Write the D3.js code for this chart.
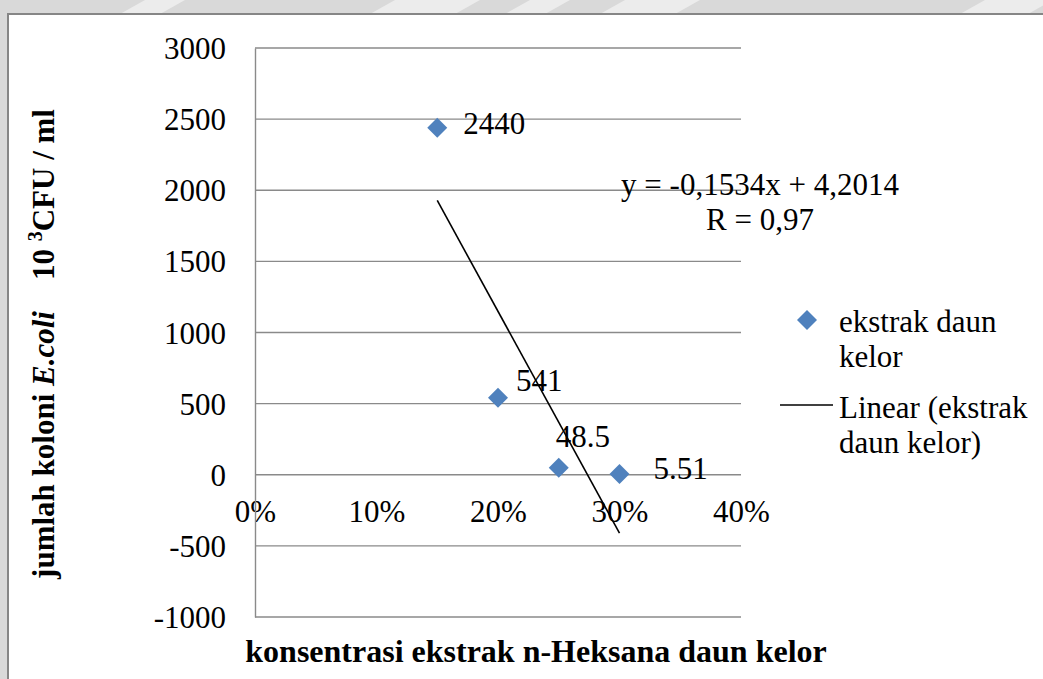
<!DOCTYPE html>
<html>
<head>
<meta charset="utf-8">
<script src="https://cdn.jsdelivr.net/npm/d3@7"></script>
<style>
  html, body { margin: 0; padding: 0; background: #d9d9d9; }
  svg { display: block; }
  text { font-family: "Liberation Serif", "Times New Roman", serif; fill: #000; }
</style>
</head>
<body>
<svg id="chart" width="1043" height="679"></svg>
<script>
// ---- data ----
const xValues = [0.15, 0.20, 0.25, 0.30];
const yValues = [2440, 541, 48.5, 5.51];
const pointLabels = ["2440", "541", "48.5", "5.51"];
const xTicks = [0, 0.1, 0.2, 0.3, 0.4];
const yTicks = [-1000, -500, 0, 500, 1000, 1500, 2000, 2500, 3000];
const seriesName = ["ekstrak daun", "kelor"];
const trendName = ["Linear (ekstrak", "daun kelor)"];
const equationLines = ["y = -0,1534x + 4,2014", "R = 0,97"];
const xTitle = "konsentrasi ekstrak n-Heksana daun kelor";

// label placement (layout, not data): [dx, baseline dy] from the point
const labelOffsets = [[26, 6], [18, -7], [-3, -21], [34, 5]];

const svg = d3.select("#chart");
const W = 1043, H = 679;

// background + faint watermark strips at the top
svg.append("rect").attr("width", W).attr("height", H).attr("fill", "#d9d9d9");
const wm = [[120, 175], [370, 470], [505, 560], [600, 690], [960, 1043]];
wm.forEach(([a, b]) => {
  svg.append("polygon")
    .attr("points", `${a},14 ${a + 25},0 ${b + 10},0 ${b - 15},14`)
    .attr("fill", "#ececec");
});

// chart area
svg.append("rect").attr("x", 8).attr("y", 14).attr("width", W).attr("height", H)
  .attr("fill", "#fff").attr("stroke", "#868686").attr("stroke-width", 2);

const x = d3.scaleLinear().domain([0, 0.4]).range([255, 741]);
const y = d3.scaleLinear().domain([-1000, 3000]).range([617, 48]);

// gridlines
svg.append("g").selectAll("line").data(yTicks).join("line")
  .attr("x1", x(0)).attr("x2", x(0.4))
  .attr("y1", d => y(d)).attr("y2", d => y(d))
  .attr("stroke", "#8a8a8a").attr("stroke-width", 1.4);

// y axis
const yAxis = svg.append("g").attr("transform", `translate(${x(0)},0)`)
  .call(d3.axisLeft(y).tickValues(yTicks).tickSize(0).tickPadding(29).tickFormat(d => String(d)));
yAxis.select(".domain").attr("stroke", "#8a8a8a").attr("stroke-width", 1.4);
yAxis.selectAll("text").attr("font-size", 31).attr("font-family", "Liberation Serif").attr("dy", "0.34em");

// x axis labels at y = 0
const xAxis = svg.append("g").attr("transform", `translate(0,${y(0)})`)
  .call(d3.axisBottom(x).tickValues(xTicks).tickSize(0).tickPadding(25).tickFormat(d => Math.round(d * 100) + "%"));
xAxis.select(".domain").remove();
xAxis.selectAll("text").attr("font-size", 31).attr("font-family", "Liberation Serif").attr("dy", "0.71em");
yAxis.raise();

// trendline (least squares from data)
const mx = d3.mean(xValues), my = d3.mean(yValues);
const sxy = d3.sum(xValues, (v, i) => (v - mx) * (yValues[i] - my));
const sxx = d3.sum(xValues, v => (v - mx) ** 2);
const slope = sxy / sxx, intercept = my - slope * mx;
const xr = d3.extent(xValues);
svg.append("line")
  .attr("x1", x(xr[0])).attr("y1", y(slope * xr[0] + intercept))
  .attr("x2", x(xr[1])).attr("y2", y(slope * xr[1] + intercept))
  .attr("stroke", "#000").attr("stroke-width", 1.6);

// points
const diamond = d3.symbol().type(d3.symbolSquare).size(200);
svg.append("g").selectAll("path").data(xValues).join("path")
  .attr("d", diamond)
  .attr("transform", (d, i) => `translate(${x(d)},${y(yValues[i])}) rotate(45)`)
  .attr("fill", "#4f81bd");

// point labels
svg.append("g").selectAll("text").data(pointLabels).join("text")
  .attr("x", (d, i) => x(xValues[i]) + labelOffsets[i][0])
  .attr("y", (d, i) => y(yValues[i]) + labelOffsets[i][1])
  .attr("font-size", 31)
  .text(d => d);

// equation
const eq = svg.append("text").attr("font-size", 31).attr("text-anchor", "middle");
equationLines.forEach((t, i) => {
  eq.append("tspan").attr("x", 760).attr("y", 195 + i * 35).text(t);
});

// legend
svg.append("path").attr("d", diamond)
  .attr("transform", "translate(807,320) rotate(45)").attr("fill", "#4f81bd");
seriesName.forEach((t, i) => {
  svg.append("text").attr("x", 839).attr("y", 332 + i * 35).attr("font-size", 31).text(t);
});
svg.append("line").attr("x1", 780).attr("x2", 833).attr("y1", 405).attr("y2", 405)
  .attr("stroke", "#000").attr("stroke-width", 1.6);
trendName.forEach((t, i) => {
  svg.append("text").attr("x", 839).attr("y", 418 + i * 35).attr("font-size", 31).text(t);
});

// x title
svg.append("text").attr("x", 536).attr("y", 662).attr("text-anchor", "middle")
  .attr("font-size", 32).attr("font-weight", "bold").text(xTitle);

// y title
const yt = svg.append("text")
  .attr("transform", "translate(54,344) rotate(-90)")
  .attr("text-anchor", "middle")
  .attr("font-size", 31).attr("font-weight", "bold")
  .style("white-space", "pre");
yt.append("tspan").text("jumlah koloni ");
yt.append("tspan").attr("font-style", "italic").text("E.coli");
yt.append("tspan").text("    10 ");
yt.append("tspan").attr("font-size", 20).attr("dy", "-0.6em").text("3");
yt.append("tspan").attr("dy", "0.4em").text("CFU / ml");
</script>
</body>
</html>
